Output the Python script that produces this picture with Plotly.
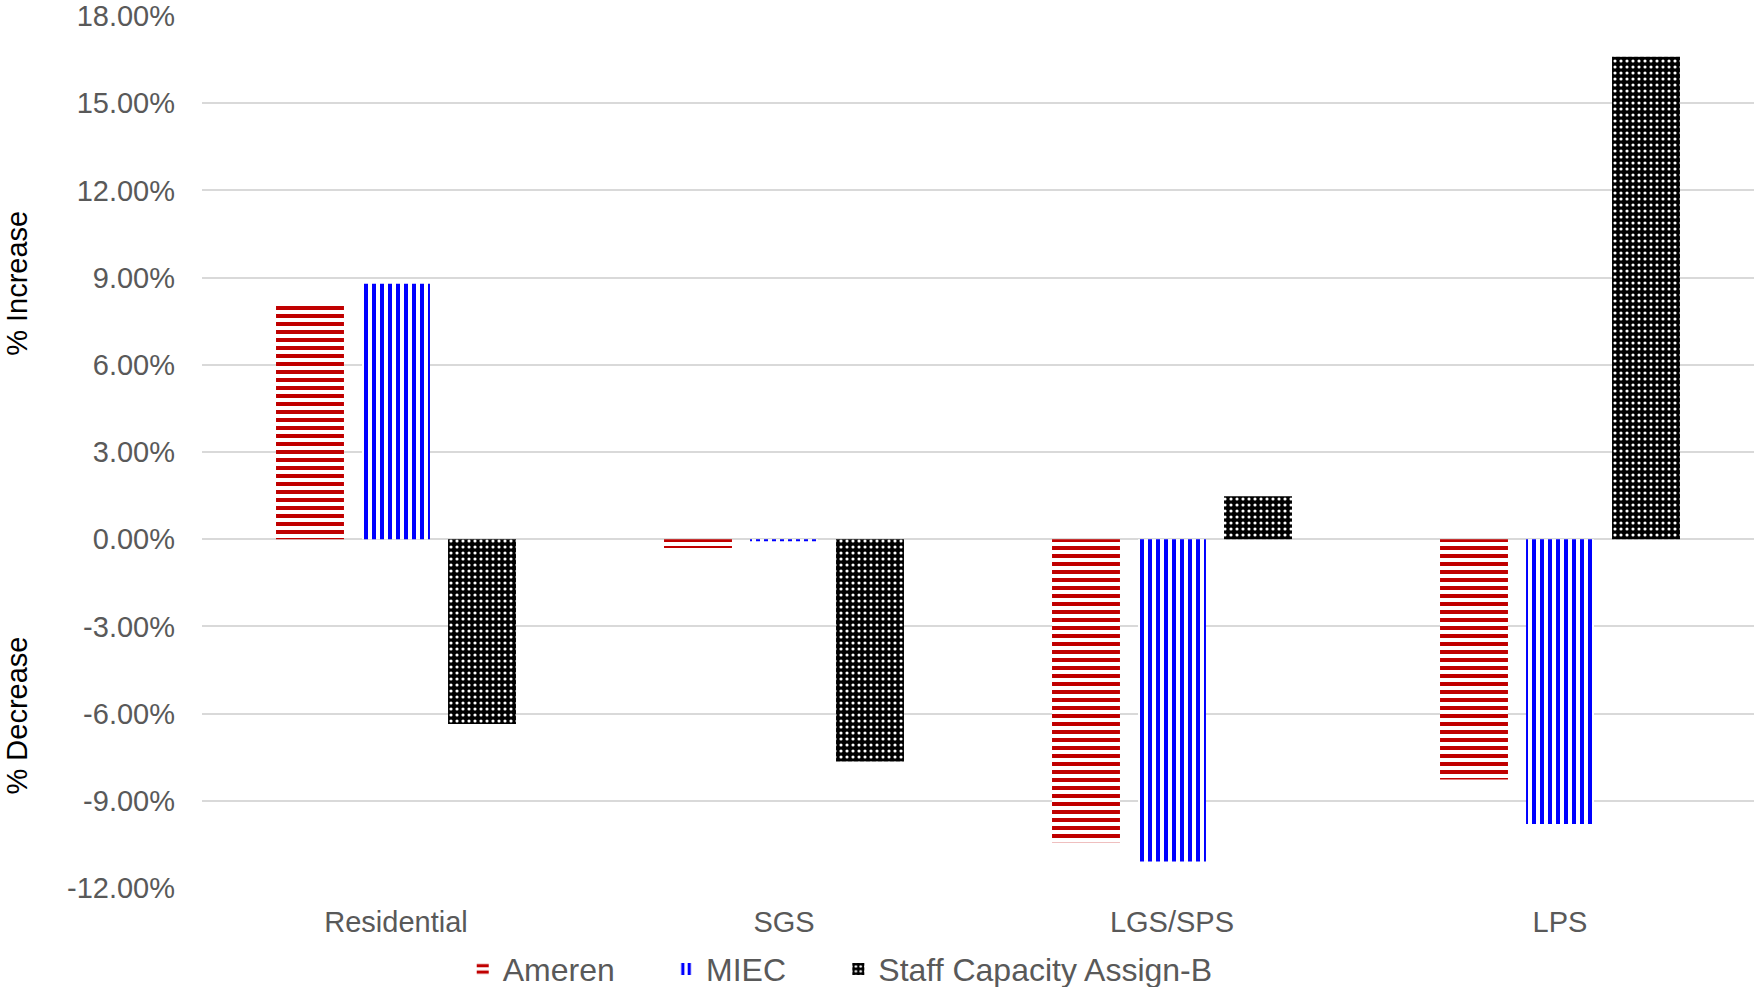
import plotly.graph_objects as go

# Rate class categories and percentage change by proposal
categories = ["Residential", "SGS", "LGS/SPS", "LPS"]
ameren = [8.08, -0.30, -10.43, -8.27]
miec = [8.79, -0.07, -11.09, -9.80]
staff = [-6.36, -7.65, 1.48, 16.60]

y_ticks = [-12, -9, -6, -3, 0, 3, 6, 9, 12, 15, 18]
y_tick_text = [f"{v:.2f}%" for v in y_ticks]

FONT = "Liberation Sans, Arial, sans-serif"
TEXT_GRAY = "#595959"
GRID_GRAY = "#d9d9d9"

fig = go.Figure()

fig.add_trace(go.Bar(
    name="Ameren", x=categories, y=ameren, legend="legend",
    marker=dict(color="#c00000", line=dict(width=0),
                pattern=dict(shape="-", size=8, solidity=0.5,
                             fillmode="replace",
                             fgcolor="#c00000", bgcolor="#ffffff")),
))
fig.add_trace(go.Bar(
    name="MIEC", x=categories, y=miec, legend="legend2",
    marker=dict(color="#0000ff", line=dict(width=0),
                pattern=dict(shape="|", size=8, solidity=0.5,
                             fillmode="replace",
                             fgcolor="#0000ff", bgcolor="#ffffff")),
))
fig.add_trace(go.Bar(
    name="Staff Capacity Assign-B", x=categories, y=staff, legend="legend3",
    marker=dict(color="#000000", line=dict(width=0),
                pattern=dict(shape=".", size=6, solidity=0.22,
                             fillmode="replace",
                             fgcolor="#ffffff", bgcolor="#000000")),
))

legend_common = dict(
    orientation="h", xanchor="left", y=-0.093, yanchor="middle",
    font=dict(size=32, color=TEXT_GRAY, family=FONT),
    bgcolor="rgba(0,0,0,0)", itemwidth=30,
)

fig.update_layout(
    width=1754, height=987,
    margin=dict(l=202, r=0, t=16, b=99, autoexpand=False),
    paper_bgcolor="white", plot_bgcolor="white",
    barmode="group", bargap=0.335, bargroupgap=0.21,
    font=dict(family=FONT, color=TEXT_GRAY, size=29),
    showlegend=True,
    legend=dict(x=0.168, **legend_common),
    legend2=dict(x=0.299, **legend_common),
    legend3=dict(x=0.410, **legend_common),
)

fig.update_xaxes(
    showgrid=False, zeroline=False, showline=False,
    ticks="", ticklabelstandoff=14,
    tickfont=dict(size=29, color=TEXT_GRAY, family=FONT),
)
fig.update_yaxes(
    range=[-12, 18], tickmode="array", tickvals=y_ticks, ticktext=y_tick_text,
    showgrid=True, gridcolor=GRID_GRAY, gridwidth=2,
    zeroline=True, zerolinecolor=GRID_GRAY, zerolinewidth=2,
    showline=False, ticks="", ticklabelstandoff=26,
    tickfont=dict(size=29, color=TEXT_GRAY, family=FONT),
)

# Split y-axis caption: increase above zero, decrease below
for label, yval in [("% Increase", 8.8), ("% Decrease", -6.05)]:
    fig.add_annotation(
        text=label, xref="paper", yref="y", x=-0.1305, y=yval,
        textangle=-90, showarrow=False,
        font=dict(size=29, color="#000000", family=FONT),
    )

fig.write_html("out.html")
